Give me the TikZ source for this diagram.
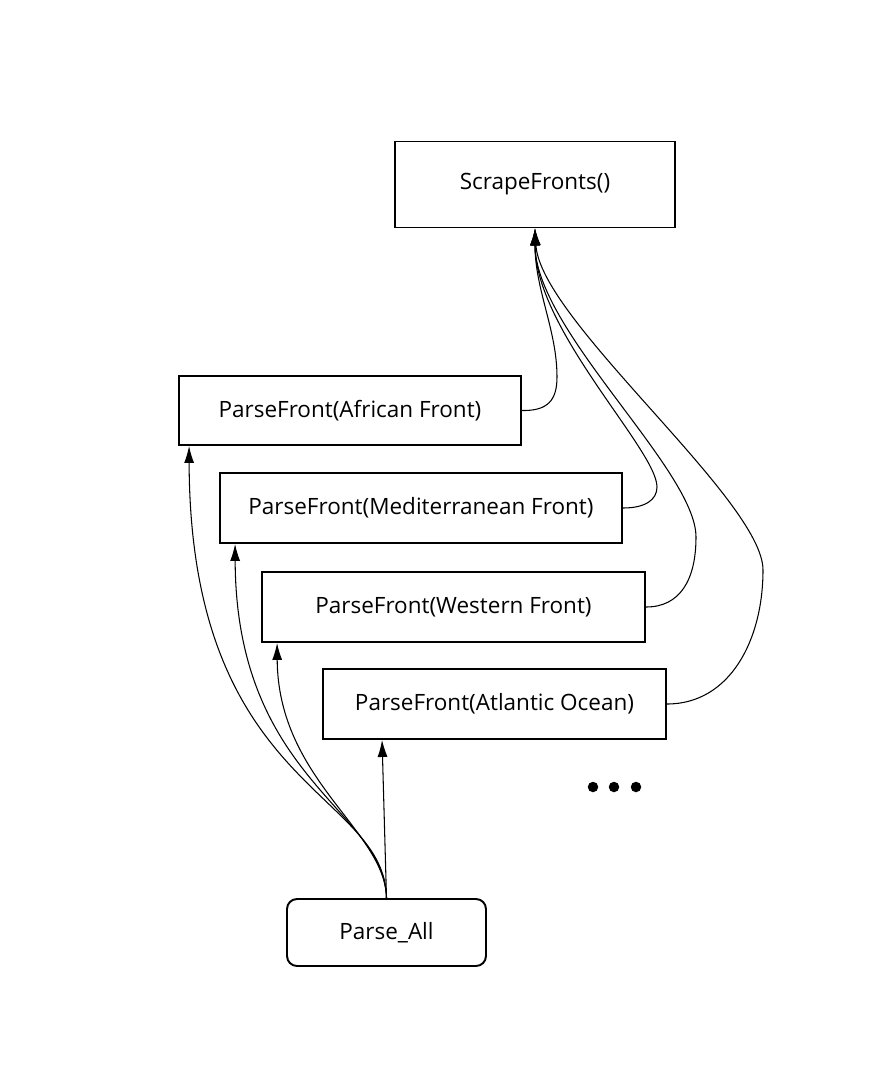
\documentclass[tikz,border=0pt]{standalone}
\usepackage{fontspec}
\setmainfont{Open Sans}
\usetikzlibrary{arrows.meta}
\begin{document}
\begin{tikzpicture}[x=0.02cm, y=-0.02cm]

      \tikzset{fnbox/.style={draw, line width=1.1pt, inner sep=0pt, font=\fontsize{12.8}{15}\selectfont},
               link/.style={line width=0.6pt, -{Latex[length=0.34cm, width=0.2cm]}}}
      \useasboundingbox (0,0) rectangle (887,1090);
%% Boxes
      	\node[fnbox, minimum width=5.60cm, minimum height=1.72cm] (sf) at (535,184.5) {ScrapeFronts()};
      	\node[fnbox, minimum width=6.84cm, minimum height=1.38cm] (af) at (350,410.5) {ParseFront(African Front)};
      	\node[fnbox, minimum width=8.04cm, minimum height=1.40cm] (mf) at (421,508) {ParseFront(Mediterranean Front)};
      	\node[fnbox, minimum width=7.66cm, minimum height=1.40cm] (wf) at (453.5,607) {ParseFront(Western Front)};
      	\node[fnbox, minimum width=6.86cm, minimum height=1.40cm] (ao) at (494.5,704) {ParseFront(Atlantic Ocean)};
      	\node[fnbox, rounded corners=0.2cm, minimum width=3.98cm, minimum height=1.34cm] (pa) at (386.5,932.5) {Parse\_All};

%% Edges to ScrapeFronts
		\draw[link] (af.east) .. controls (548,411) and (557,400) .. (557,377)
		                      .. controls (557,330) and (535,290) .. (sf.south);
		\draw[link] (mf.east) .. controls (645,508) and (657,500) .. (657,487)
		                      .. controls (657,450) and (535,330) .. (sf.south);
		\draw[link] (wf.east) .. controls (680,607) and (696,580) .. (696,537)
		                      .. controls (696,470) and (535,330) .. (sf.south);
		\draw[link] (ao.east) .. controls (730,704) and (763,640) .. (763,570)
		                      .. controls (763,500) and (540,320) .. (sf.south);

%% Edges from Parse_All
		\draw[link] (pa.north) .. controls (385,790) and (190,790) .. ([xshift=0.22cm]af.south west);
		\draw[link] (pa.north) .. controls (385,810) and (236,780) .. ([xshift=0.32cm]mf.south west);
		\draw[link] (pa.north) .. controls (385,830) and (278,780) .. ([xshift=0.32cm]wf.south west);
		\draw[link] (pa.north) -- ([xshift=1.20cm]ao.south west);

%% More fronts
		\foreach \dx in {593,614,636} \fill (\dx,787) circle (0.105cm);
	\end{tikzpicture}
\end{document}
